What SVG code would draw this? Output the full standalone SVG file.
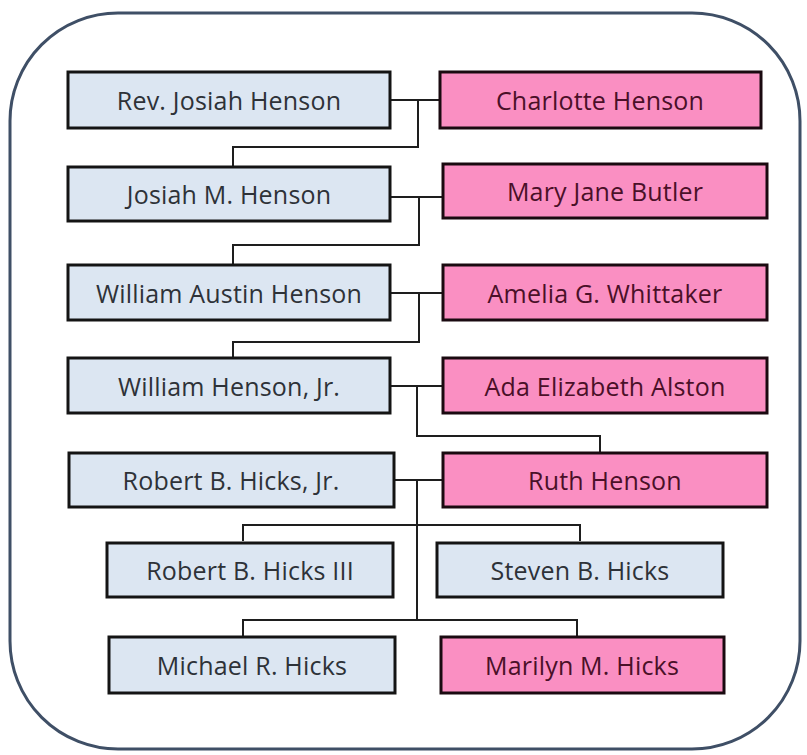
<svg xmlns="http://www.w3.org/2000/svg" width="807" height="755" viewBox="0 0 807 755">
<style>
.m rect{fill:#dce6f2;stroke:#141414;stroke-width:3}
.f rect{fill:#fa8fc2;stroke:#1a0a10;stroke-width:3}
text{font-family:"Open Sans",Lato,sans-serif;font-size:25px;text-anchor:middle;dominant-baseline:central;letter-spacing:0.2px}
.m text{fill:#2e3238}
.f text{fill:#4a1028}
#connectors path{fill:none;stroke:#1e1e1e;stroke-width:2}
</style>
<rect x="0" y="0" width="807" height="755" fill="#ffffff"/>
<rect id="frame" x="10" y="13" width="790" height="736" rx="108" ry="108" fill="#ffffff" stroke="#3f4f66" stroke-width="3"/>
<g id="connectors">
<path d="M390 100H440M418 100V147H233V167"/>
<path d="M390 197H443M419 197V245H233V265"/>
<path d="M390 293H443M419 293V342H233V358"/>
<path d="M390 386H443M417 386V436H600V453"/>
<path d="M394 480H443M417 480V620"/>
<path d="M243 541V525H580V541"/>
<path d="M243 637V620H577V637"/>
</g>
<g id="n1" class="m"><rect x="68" y="72" width="322" height="56"/><text x="229" y="100">Rev. Josiah Henson</text></g>
<g id="n2" class="f"><rect x="440" y="72" width="321" height="56"/><text x="600" y="100">Charlotte Henson</text></g>
<g id="n3" class="m"><rect x="68" y="167" width="322" height="54"/><text x="229" y="194">Josiah M. Henson</text></g>
<g id="n4" class="f"><rect x="443" y="164" width="324" height="54"/><text x="605" y="191">Mary Jane Butler</text></g>
<g id="n5" class="m"><rect x="68" y="265" width="322" height="55"/><text x="229" y="293">William Austin Henson</text></g>
<g id="n6" class="f"><rect x="443" y="265" width="324" height="55"/><text x="605" y="293">Amelia G. Whittaker</text></g>
<g id="n7" class="m"><rect x="68" y="358" width="322" height="55"/><text x="229" y="386">William Henson,  Jr.</text></g>
<g id="n8" class="f"><rect x="443" y="358" width="324" height="55"/><text x="605" y="386">Ada Elizabeth Alston</text></g>
<g id="n9" class="m"><rect x="69" y="453" width="325" height="54"/><text x="231" y="480">Robert B. Hicks, Jr.</text></g>
<g id="n10" class="f"><rect x="443" y="453" width="324" height="54"/><text x="605" y="480">Ruth Henson</text></g>
<g id="n11" class="m"><rect x="107" y="543" width="286" height="54"/><text x="250" y="570">Robert B. Hicks III</text></g>
<g id="n12" class="m"><rect x="437" y="543" width="286" height="54"/><text x="580" y="570">Steven B. Hicks</text></g>
<g id="n13" class="m"><rect x="109" y="637" width="286" height="56"/><text x="252" y="665">Michael R. Hicks</text></g>
<g id="n14" class="f"><rect x="441" y="637" width="283" height="56"/><text x="582" y="665">Marilyn M. Hicks</text></g>
</svg>
